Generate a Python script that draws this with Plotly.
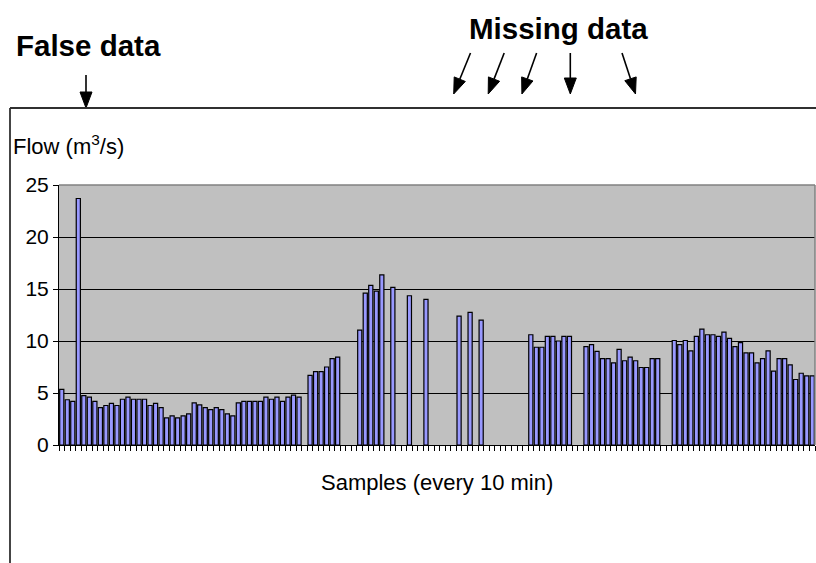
import plotly.graph_objects as go

# Flow values per 10-minute sample (None = missing sample)
flow = [
    5.35, 4.35, 4.2, 23.7, 4.75, 4.6, 4.2, 3.6, 3.8, 4.0,
    3.8, 4.4, 4.6, 4.4, 4.4, 4.4, 3.8, 4.0, 3.6, 2.6,
    2.8, 2.6, 2.8, 3.0, 4.05, 3.85, 3.6, 3.4, 3.6, 3.4,
    3.0, 2.8, 4.05, 4.2, 4.2, 4.2, 4.2, 4.6, 4.4, 4.6,
    4.2, 4.6, 4.8, 4.6, None, 6.7, 7.05, 7.05, 7.5, 8.3,
    8.45, None, None, None, 11.05, 14.6, 15.35, 14.8, 16.35, None,
    15.15, None, None, 14.35, None, None, 14.0, None, None, None,
    None, None, 12.4, None, 12.75, None, 12.0, None, None, None,
    None, None, None, None, None, 10.6, 9.4, 9.4, 10.45, 10.45,
    10.0, 10.45, 10.45, None, None, 9.45, 9.65, 9.0, 8.3, 8.3,
    7.9, 9.2, 8.1, 8.45, 8.1, 7.45, 7.45, 8.3, 8.3, None,
    None, 10.05, 9.65, 10.05, 9.05, 10.45, 11.15, 10.6, 10.6, 10.45,
    10.85, 10.25, 9.45, 9.85, 8.85, 8.85, 7.9, 8.3, 9.05, 7.1,
    8.3, 8.3, 7.7, 6.3, 6.9, 6.65, 6.65,
]
samples = list(range(len(flow)))
y_ticks = [0, 5, 10, 15, 20, 25]

FONT = "Arial, Liberation Sans, sans-serif"

# pixel -> paper helpers (plot area: x 59..815, y 185..445)
L, R, T, B = 59, 815, 185, 445
def px(x):
    return (x - L) / (R - L)
def py(y):
    return (B - y) / (B - T)

fig = go.Figure()
fig.add_trace(go.Bar(
    x=samples, y=flow,
    marker=dict(color="#9999FF", line=dict(color="black", width=1.2)),
    hoverinfo="y",
))

annotations = [
    dict(text="<b>False data</b>", x=px(88.5), y=py(46), xref="paper", yref="paper",
         showarrow=False, font=dict(family=FONT, size=29.5, color="black"),
         xanchor="center", yanchor="middle"),
    dict(text="<b>Missing data</b>", x=px(558), y=py(29), xref="paper", yref="paper",
         showarrow=False, font=dict(family=FONT, size=29.5, color="black"),
         xanchor="center", yanchor="middle"),
    dict(text="Flow (m<sup>3</sup>/s)", x=px(11), y=py(145), xref="paper", yref="paper",
         showarrow=False, font=dict(family=FONT, size=22, color="black"),
         xanchor="left", yanchor="middle"),
    dict(text="Samples (every 10 min)", x=px(437), y=py(482), xref="paper", yref="paper",
         showarrow=False, font=dict(family=FONT, size=22, color="black"),
         xanchor="center", yanchor="middle"),
]

# arrows: (tail_x, tail_y, tip_x, tip_y) in pixels
arrows = [
    (86, 75, 86, 108),
    (470.5, 53, 453.7, 94),
    (504.2, 53, 488.2, 94),
    (536.6, 53, 521.9, 94),
    (570.3, 53, 570.3, 94),
    (622.0, 53, 635.5, 94),
]
HEAD_LEN, HEAD_W = 16, 12

shapes = []
for (x0, y0, x1, y1) in arrows:
    dx, dy = x1 - x0, y1 - y0
    n = (dx * dx + dy * dy) ** 0.5
    ux, uy = dx / n, dy / n
    bx, by = x1 - ux * HEAD_LEN, y1 - uy * HEAD_LEN
    nx, ny = -uy, ux
    shapes.append(dict(type="line", xref="paper", yref="paper",
                       x0=px(x0), y0=py(y0), x1=px(bx), y1=py(by),
                       line=dict(color="black", width=1.6)))
    p1 = (bx + nx * HEAD_W / 2, by + ny * HEAD_W / 2)
    p2 = (bx - nx * HEAD_W / 2, by - ny * HEAD_W / 2)
    path = "M {} {} L {} {} L {} {} Z".format(
        px(x1), py(y1), px(p1[0]), py(p1[1]), px(p2[0]), py(p2[1]))
    shapes.append(dict(type="path", xref="paper", yref="paper", path=path,
                       fillcolor="black", line=dict(color="black", width=1)))

shapes += [
    # chart frame (top and left edges visible)
    dict(type="line", xref="paper", yref="paper", x0=px(10), x1=px(817),
         y0=py(108), y1=py(108), line=dict(color="#303030", width=1.8)),
    dict(type="line", xref="paper", yref="paper", x0=px(10), x1=px(10),
         y0=py(108), y1=py(564), line=dict(color="#303030", width=1.8)),
    # plot-area border (top/right gray)
    dict(type="line", xref="paper", yref="paper", x0=0, x1=1, y0=1, y1=1,
         line=dict(color="#808080", width=1.5), layer="above"),
    dict(type="line", xref="paper", yref="paper", x0=1, x1=1, y0=0, y1=1,
         line=dict(color="#808080", width=1.5), layer="above"),
]

fig.update_layout(
    width=816, height=563,
    margin=dict(l=L, r=816 - R, t=T, b=563 - B, pad=0),
    paper_bgcolor="white", plot_bgcolor="#C0C0C0",
    bargap=0.25, showlegend=False,
    font=dict(family=FONT, size=21, color="black"),
    annotations=annotations, shapes=shapes,
    xaxis=dict(
        range=[-0.5, len(flow) - 0.5], tickmode="linear", tick0=-0.5, dtick=1,
        ticks="outside", ticklen=5, tickcolor="black", tickwidth=1,
        showticklabels=False, showgrid=False, zeroline=False,
        showline=True, linecolor="black", linewidth=1,
    ),
    yaxis=dict(
        range=[0, 25], tickmode="array", tickvals=y_ticks,
        ticks="outside", ticklen=5, tickcolor="black", tickwidth=1,
        tickfont=dict(family=FONT, size=21, color="black"),
        showgrid=True, gridcolor="black", gridwidth=1, zeroline=False,
        showline=True, linecolor="black", linewidth=1,
    ),
)

fig.write_html(
    "out.html",
    config={"displayModeBar": False},
    post_script="document.body.style.margin='0px';"
                "document.documentElement.style.overflow='hidden';",
)
